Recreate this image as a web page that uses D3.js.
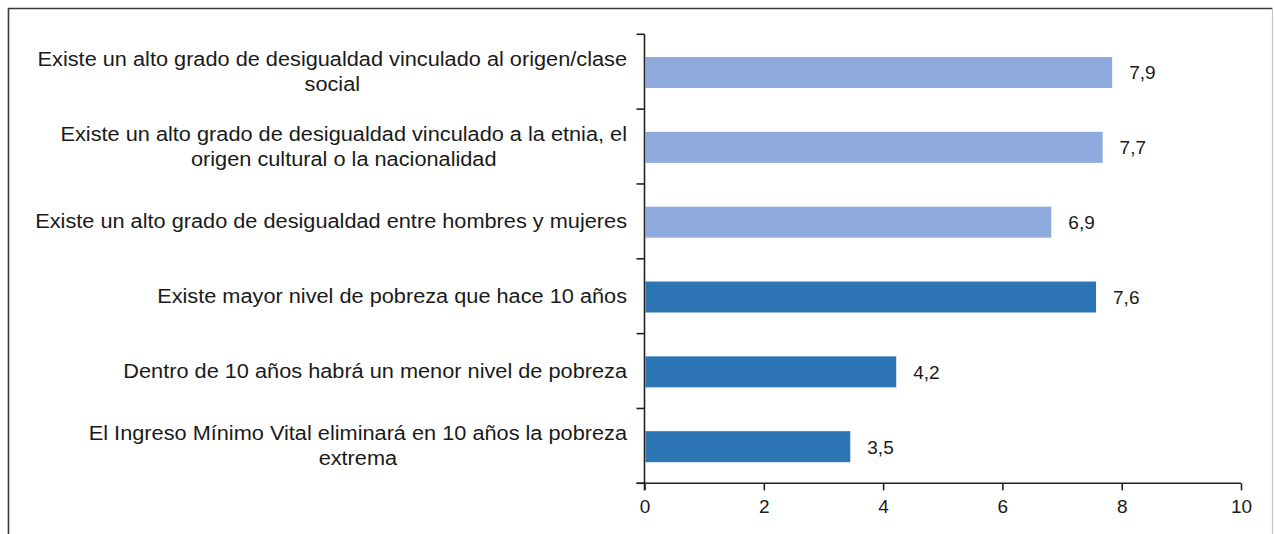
<!DOCTYPE html>
<html>
<head>
<meta charset="utf-8">
<script src="https://cdn.jsdelivr.net/npm/d3@7"></script>
<style>
  html, body { margin: 0; padding: 0; background: #fff; }
  svg { display: block; font-family: "Liberation Sans", Arial, sans-serif; }
</style>
</head>
<body>
<svg id="chart" width="1274" height="534"></svg>
<script>
// ---- data ----
const categories = [
  ["Existe un alto grado de desigualdad vinculado al origen/clase", "social"],
  ["Existe un alto grado de desigualdad vinculado a la etnia, el", "origen cultural o la nacionalidad"],
  ["Existe un alto grado de desigualdad entre hombres y mujeres"],
  ["Existe mayor nivel de pobreza que hace 10 años"],
  ["Dentro de 10 años habrá un menor nivel de pobreza"],
  ["El Ingreso Mínimo Vital eliminará en 10 años la pobreza", "extrema"]
];
const values = [7.84, 7.68, 6.82, 7.57, 4.22, 3.45];
const valueLabels = ["7,9", "7,7", "6,9", "7,6", "4,2", "3,5"];
const groups = ["light", "light", "light", "dark", "dark", "dark"];
const xTicks = [0, 2, 4, 6, 8, 10];

// ---- layout ----
const W = 1274, H = 534;
const plot = { left: 644.5, right: 1241, top: 34.3, bottom: 483.3 };
const colors = { light: "#8FAADC", dark: "#2E75B6" };
const fontSize = 19;
const catFontSize = 20;
const catScaleX = 1.087;

const svg = d3.select("#chart");

// frame
svg.append("path")
  .attr("d", `M8.5,${H + 2} V8.5 H1272.5`)
  .attr("fill", "none").attr("stroke", "#3a3a3a").attr("stroke-width", 1.6);
svg.append("line")
  .attr("x1", 1272.5).attr("x2", 1272.5).attr("y1", 8.5).attr("y2", H + 2)
  .attr("stroke", "#c8c8c8").attr("stroke-width", 1.2);

const x = d3.scaleLinear().domain([0, 10]).range([plot.left, plot.right]);
const y = d3.scaleBand().domain(d3.range(categories.length)).range([plot.top, plot.bottom]).padding(0);
const barH = 31;

// bars
svg.append("g").selectAll("rect")
  .data(values)
  .join("rect")
  .attr("x", x(0) + 1)
  .attr("y", (d, i) => y(i) + y.bandwidth() / 2 - barH / 2 + 0.8)
  .attr("width", d => x(d) - x(0) - 1)
  .attr("height", barH)
  .attr("fill", (d, i) => colors[groups[i]]);

// value labels
svg.append("g").selectAll("text")
  .data(values)
  .join("text")
  .attr("x", d => x(d) + 17)
  .attr("y", (d, i) => y(i) + y.bandwidth() / 2 + 1)
  .attr("dy", "0.35em")
  .attr("font-size", fontSize)
  .attr("fill", "#1a1a1a")
  .text((d, i) => valueLabels[i]);

// x axis
const xAxis = d3.axisBottom(x).tickValues(xTicks).tickSize(7).tickPadding(9).tickFormat(d3.format("d"));
const gx = svg.append("g").attr("transform", `translate(0,${plot.bottom})`).call(xAxis);
gx.select(".domain").remove();
gx.append("line").attr("x1", plot.left - 8).attr("x2", plot.right).attr("y1", 0).attr("y2", 0)
  .attr("stroke", "#222").attr("stroke-width", 1.6);
gx.selectAll(".tick line").attr("stroke", "#222").attr("stroke-width", 1.6);
gx.selectAll(".tick text").attr("font-size", fontSize).attr("fill", "#1a1a1a")
  .attr("font-family", "Liberation Sans, Arial, sans-serif");

// y axis: line + ticks at category boundaries
const gy = svg.append("g");
gy.append("line").attr("x1", plot.left).attr("x2", plot.left).attr("y1", plot.top).attr("y2", plot.bottom + 7)
  .attr("stroke", "#222").attr("stroke-width", 1.6);
const boundaries = d3.range(categories.length + 1).map(i => i < categories.length ? y(i) : plot.bottom);
gy.selectAll("line.bt").data(boundaries).join("line").attr("class", "bt")
  .attr("x1", plot.left - 8).attr("x2", plot.left).attr("y1", d => d).attr("y2", d => d)
  .attr("stroke", "#222").attr("stroke-width", 1.6);

// category labels
const labelRight = 627;
const lineH = 25;
const lg = svg.append("g");
categories.forEach((lines, i) => {
  const cy = y(i) + y.bandwidth() / 2;
  const n = lines.length;
  const g = lg.append("g").attr("transform", `translate(${labelRight},${cy}) scale(${catScaleX},1)`);
  const t0 = g.append("text")
    .attr("x", 0).attr("text-anchor", "end")
    .attr("y", -(n - 1) * lineH / 2).attr("dy", "0.35em")
    .attr("font-size", catFontSize).attr("fill", "#1a1a1a")
    .text(lines[0]);
  if (n > 1) {
    const w0 = t0.node().getComputedTextLength();
    for (let k = 1; k < n; k++) {
      g.append("text")
        .attr("x", -w0 / 2).attr("text-anchor", "middle")
        .attr("y", -(n - 1) * lineH / 2 + k * lineH).attr("dy", "0.35em")
        .attr("font-size", catFontSize).attr("fill", "#1a1a1a")
        .text(lines[k]);
    }
  }
});
</script>
</body>
</html>
